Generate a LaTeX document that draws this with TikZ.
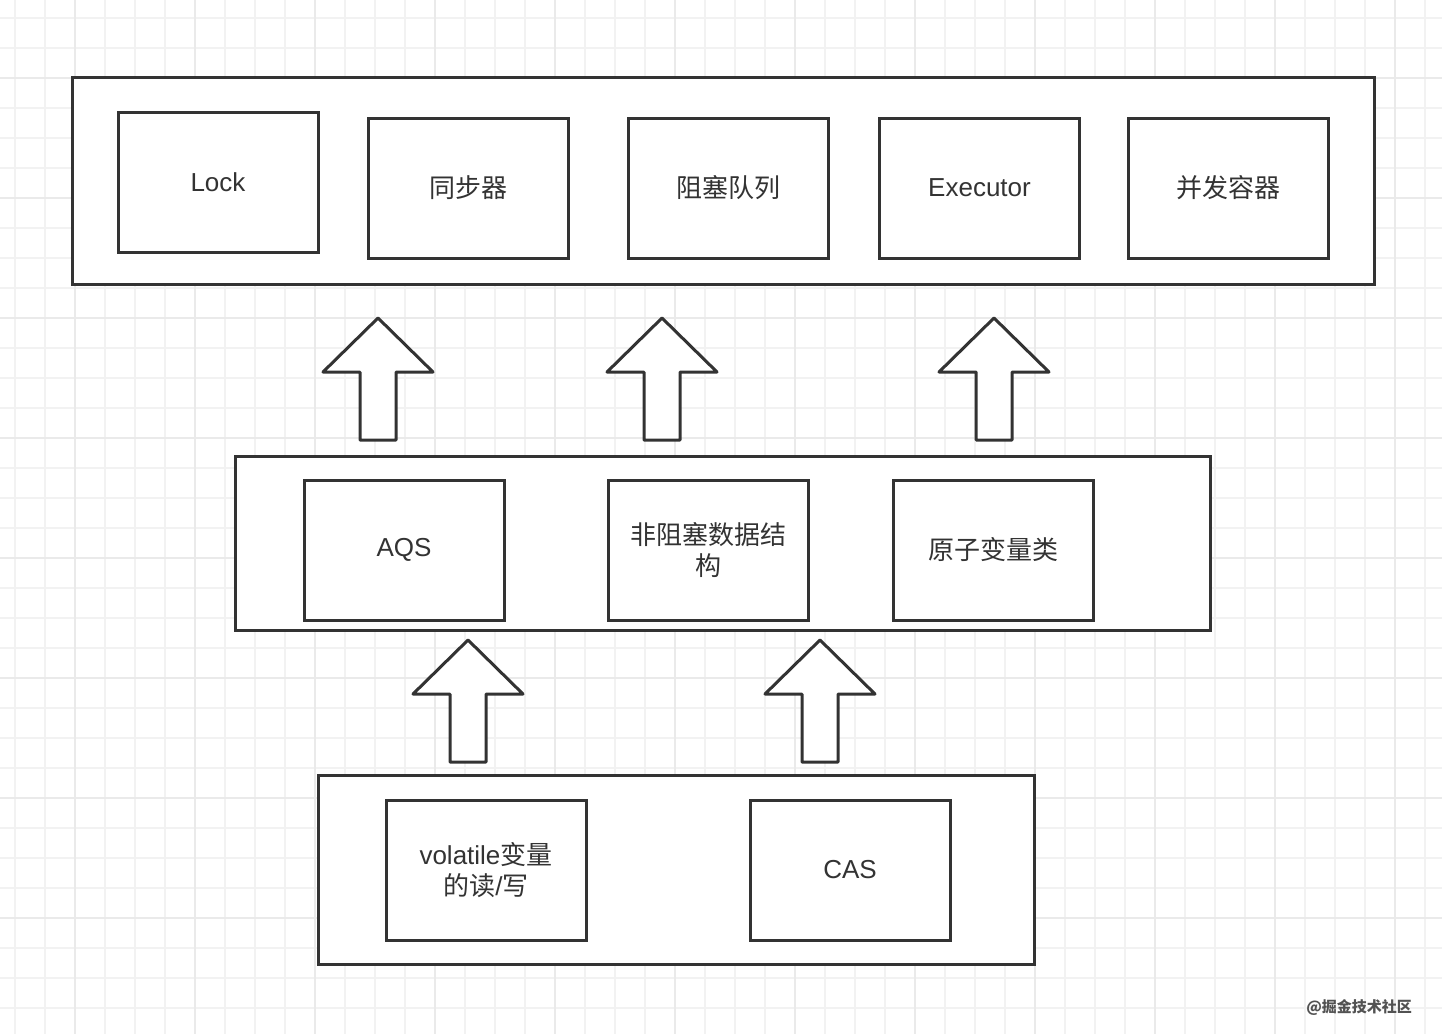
\documentclass[tikz,border=0pt]{standalone}
\usepackage{fontspec}
\setmainfont{Liberation Sans}
\newfontfamily\cjk{Noto Sans CJK SC}
\usepackage{xcolor}
\usetikzlibrary{calc}
\definecolor{ink}{HTML}{333333}
\definecolor{gridgray}{HTML}{F2F2F2}
\definecolor{gridmajor}{HTML}{EAEAEA}
\tikzset{
	layer/.style={draw=ink, line width=1.5pt, fill=white, inner sep=0pt},
	item/.style={draw=ink, line width=1.5pt, fill=white, inner sep=0pt,
		minimum width=100pt, minimum height=70pt, align=center, text=ink,
		font=\fontsize{13}{15.5}\selectfont},
	label/.style={yshift=-1pt},
	uparrow/.style={draw=ink, line width=1.5pt, fill=white, line join=round}
}
% block arrow pointing up: x of tip, y of tip
\newcommand{\uparr}[2]{%
	\filldraw [uparrow] (#1,#2) -- ++(55,54) -- ++(-37,0) -- ++(0,68)
		-- ++(-36,0) -- ++(0,-68) -- ++(-37,0) -- cycle;}

\begin{document}
\begin{tikzpicture}[x=0.5pt,y=-0.5pt]
				\useasboundingbox (0,0) rectangle (1442,1034);
				\fill [white] (0,0) rectangle (1442,1034);
				% grid
				\foreach \gx in {15,45,...,1442}
					\draw [gridgray, line width=0.6pt] (\gx,0) -- (\gx,1034);
				\foreach \gy in {18,48,...,1034}
					\draw [gridgray, line width=0.6pt] (0,\gy) -- (1442,\gy);
				\foreach \gx in {75,195,...,1442}
					\draw [gridmajor, line width=0.8pt] (\gx,0) -- (\gx,1034);
				\foreach \gy in {78,198,...,1034}
					\draw [gridmajor, line width=0.8pt] (0,\gy) -- (1442,\gy);

				% top layer
				\node [layer, minimum width=651pt, minimum height=103.5pt] (top) at (723,180.5) {};
				\node [item] (lock) at (218,182) {\raisebox{-1pt}{Lock}};
				\node [item] (sync) at (468,188) {\raisebox{-1pt}{\cjk 同步器}};
				\node [item] (queue) at (728,188) {\raisebox{-1pt}{\cjk 阻塞队列}};
				\node [item] (exec) at (979.5,188) {\raisebox{-1pt}{Executor}};
				\node [item] (cont) at (1228,188) {\raisebox{-1pt}{\cjk 并发容器}};

				% middle layer
				\node [layer, minimum width=487.5pt, minimum height=87pt] (mid) at (722.5,543) {};
				\node [item] (aqs) at (404,550) {\raisebox{-1pt}{AQS}};
				\node [item] (nbds) at (708,550) {\cjk 非阻塞数据结\\\cjk 构};
				\node [item] (atomic) at (993.5,550) {\raisebox{-1pt}{\cjk 原子变量类}};

				% bottom layer
				\node [layer, minimum width=358pt, minimum height=94.5pt] (base) at (676,869.5) {};
				\node [item] (vol) at (486,870) {volatile{\cjk 变量}\\{\cjk 的读}/{\cjk 写}};
				\node [item] (cas) at (850,870) {\raisebox{-1pt}{CAS}};

				% arrows
				\uparr{378}{318}
				\uparr{662}{318}
				\uparr{994}{318}
				\uparr{468}{640}
				\uparr{820}{640}

				\node [text=ink!85, font=\cjk\bfseries\fontsize{7.5}{9}\selectfont, anchor=east] (mark) at (1419,1007) {@掘金技术社区};
			\end{tikzpicture}
\end{document}
